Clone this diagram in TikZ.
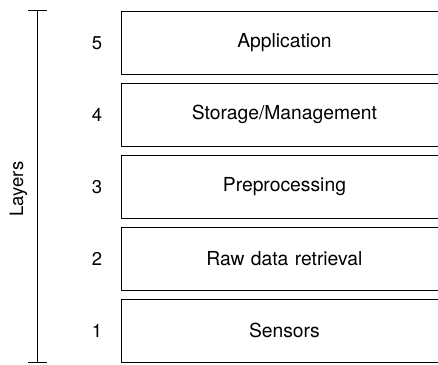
\documentclass[tikz,border=0pt]{standalone}
\usepackage{fontspec}
\setmainfont{TeX Gyre Heros}
\begin{document}
\begin{tikzpicture}[x=1pt,y=-1pt,
  layer/.style={draw,line width=0.9pt,minimum width=326pt,minimum height=63pt,anchor=north west,inner sep=0pt,font=\fontsize{19.3}{22}\selectfont,text width=320pt,align=center},
  num/.style={font=\fontsize{18.5}{21}\selectfont},
  bar/.style={line width=0.9pt}]
\useasboundingbox (0,0) rectangle (438,364);
\begin{scope}
\clip (0,0) rectangle (438,364);
\node[layer] (l5) at (121,10.5) {Application};
\node[layer] (l4) at (121,82.5) {Storage/Management};
\node[layer] (l3) at (121,154.5) {Preprocessing};
\node[layer] (l2) at (121,226.5) {Raw data retrieval};
\node[layer] (l1) at (121,298.5) {Sensors};
\end{scope}
\node[num] (n5) at (97,43) {5};
\node[num] (n4) at (97,115) {4};
\node[num] (n3) at (97,187) {3};
\node[num] (n2) at (97,259) {2};
\node[num] (n1) at (97,331) {1};
\coordinate (btop) at (37.5,10.5);
\coordinate (bbot) at (37.5,362.5);
\draw[bar] (btop) -- (bbot);
\draw[bar] ([xshift=-9.5pt]btop) -- ([xshift=9.5pt]btop);
\draw[bar] ([xshift=-9.5pt]bbot) -- ([xshift=9.5pt]bbot);
\node[num,rotate=90] (lab) at (18.5,189) {Layers};
\end{tikzpicture}
\end{document}
